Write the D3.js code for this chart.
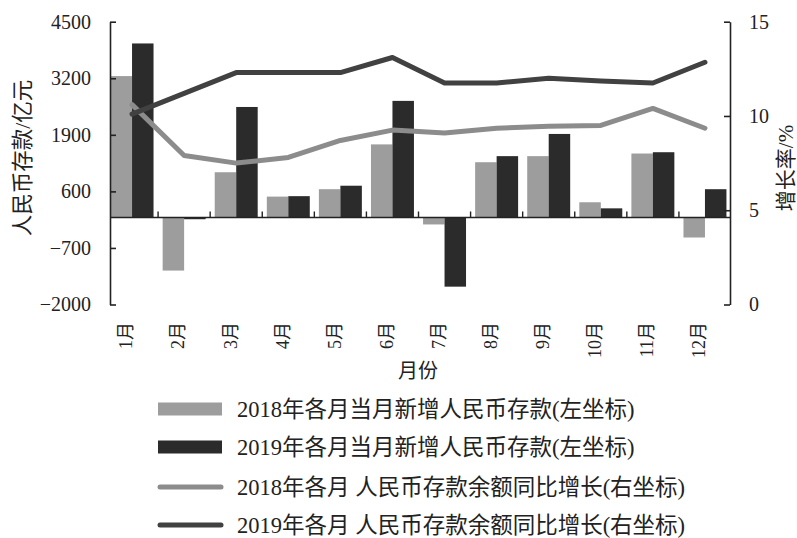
<!DOCTYPE html>
<html>
<head>
<meta charset="utf-8">
<script src="https://cdn.jsdelivr.net/npm/d3@7"></script>
<style>
  html, body { margin: 0; padding: 0; background: #fff; }
  svg { display: block; }
  text { font-family: "Liberation Serif", "Noto Sans CJK SC", serif; fill: #222; }
</style>
</head>
<body>
<svg id="chart" width="797" height="538"></svg>
<script>
// ---- data ----
const months = ["1月","2月","3月","4月","5月","6月","7月","8月","9月","10月","11月","12月"];
const deposit2018 = [3250, -1220, 1040, 480, 650, 1680, -160, 1270, 1410, 350, 1470, -460];
const deposit2019 = [4000, -40, 2540, 490, 730, 2680, -1590, 1410, 1920, 210, 1500, 650];
const growth2018 = [10.6, 7.9, 7.5, 7.8, 8.7, 9.25, 9.1, 9.35, 9.45, 9.5, 10.4, 9.35];
const growth2019 = [10.1, 11.2, 12.3, 12.3, 12.3, 13.1, 11.75, 11.75, 12.0, 11.85, 11.75, 12.85];
const leftTicks = [-2000, -700, 600, 1900, 3200, 4500];
const rightTicks = [0, 5, 10, 15];
const legendLabels = [
  "2018年各月当月新增人民币存款(左坐标)",
  "2019年各月当月新增人民币存款(左坐标)",
  "2018年各月 人民币存款余额同比增长(右坐标)",
  "2019年各月 人民币存款余额同比增长(右坐标)"
];

// ---- layout ----
const svg = d3.select("#chart");
const plotLeft = 110, plotRight = 730, plotTop = 21.7, plotBottom = 304.5;
const colGray = "#9d9d9d", colDark = "#2b2b2b", colLineLight = "#8c8c8c", colLineDark = "#414141";

const x = d3.scaleBand().domain(months).range([106, 731]).paddingInner(0.175).paddingOuter(0.0875);
const xInner = d3.scaleBand().domain(["2018", "2019"]).range([0, x.bandwidth()]);
const yL = d3.scaleLinear().domain([-2000, 4500]).range([plotBottom, plotTop]);
const yR = d3.scaleLinear().domain([0, 15]).range([plotBottom, plotTop]);
const cx = m => x(m) + x.bandwidth() / 2;

// ---- bars ----
const barData = [];
months.forEach((m, i) => {
  barData.push({m, s: "2018", v: deposit2018[i]});
  barData.push({m, s: "2019", v: deposit2019[i]});
});
svg.append("g").selectAll("rect").data(barData).join("rect")
  .attr("x", d => x(d.m) + xInner(d.s))
  .attr("width", xInner.bandwidth())
  .attr("y", d => Math.min(yL(d.v), yL(0)))
  .attr("height", d => Math.abs(yL(d.v) - yL(0)))
  .attr("fill", d => d.s === "2018" ? colGray : colDark);

// ---- axes ----
const axisColor = "#222";
// left axis
const gL = svg.append("g").attr("transform", `translate(${plotLeft},0)`)
  .call(d3.axisLeft(yL).tickValues(leftTicks).tickFormat(d3.format("d"))
    .tickSizeInner(-6).tickSizeOuter(0).tickPadding(19));
gL.select(".domain").attr("stroke", axisColor).attr("stroke-width", 1.6);
gL.selectAll(".tick line").attr("stroke", axisColor).attr("stroke-width", 1.6);
gL.selectAll(".tick text").attr("font-size", 20).attr("fill", "#222")
  .style("font-family", "'Liberation Serif', serif");

// right axis
const gR = svg.append("g").attr("transform", `translate(${plotRight},0)`)
  .call(d3.axisRight(yR).tickValues(rightTicks).tickFormat(d3.format("d"))
    .tickSizeInner(-6).tickSizeOuter(0).tickPadding(19));
gR.select(".domain").attr("stroke", axisColor).attr("stroke-width", 1.6);
gR.selectAll(".tick line").attr("stroke", axisColor).attr("stroke-width", 1.6);
gR.selectAll(".tick text").attr("font-size", 20).attr("fill", "#222")
  .style("font-family", "'Liberation Serif', serif");

// baseline (zero) with category separators
svg.append("line")
  .attr("x1", plotLeft).attr("x2", plotRight)
  .attr("y1", yL(0)).attr("y2", yL(0))
  .attr("stroke", axisColor).attr("stroke-width", 1.6);
const step = x.step();
svg.append("g").selectAll("line").data(months.slice(1)).join("line")
  .attr("x1", m => x(m) - step * x.paddingInner() / 2)
  .attr("x2", m => x(m) - step * x.paddingInner() / 2)
  .attr("y1", yL(0)).attr("y2", yL(0) - 6)
  .attr("stroke", axisColor).attr("stroke-width", 1.4);

// month labels (rotated)
svg.append("g").selectAll("text").data(months).join("text")
  .attr("transform", m => `translate(${cx(m) - 6},322) rotate(-90)`)
  .attr("text-anchor", "end")
  .attr("dy", "0.35em")
  .attr("font-size", 18)
  .text(m => m);

// axis titles
svg.append("text")
  .attr("transform", "translate(22,158) rotate(-90)")
  .attr("text-anchor", "middle").attr("dy", "0.35em")
  .attr("font-size", 21.5)
  .text("人民币存款/亿元");
svg.append("text")
  .attr("transform", "translate(786,168) rotate(-90)")
  .attr("text-anchor", "middle").attr("dy", "0.35em")
  .attr("font-size", 21)
  .text("增长率/%");
svg.append("text")
  .attr("x", 418).attr("y", 371)
  .attr("text-anchor", "middle").attr("dy", "0.35em")
  .attr("font-size", 20)
  .text("月份");

// ---- lines ----
const line = d3.line().x((d, i) => cx(months[i])).y(d => yR(d));
svg.append("path").datum(growth2018)
  .attr("d", line).attr("fill", "none")
  .attr("stroke", colLineLight).attr("stroke-width", 5)
  .attr("stroke-linejoin", "round").attr("stroke-linecap", "round");
svg.append("path").datum(growth2019)
  .attr("d", line).attr("fill", "none")
  .attr("stroke", colLineDark).attr("stroke-width", 5)
  .attr("stroke-linejoin", "round").attr("stroke-linecap", "round");

// ---- legend ----
const legendY = [409, 447, 487, 525];
const lg = svg.append("g");
legendLabels.forEach((lab, i) => {
  const y = legendY[i];
  if (i < 2) {
    lg.append("rect").attr("x", 158).attr("y", y - 6.5).attr("width", 64).attr("height", 13)
      .attr("fill", i === 0 ? colGray : colDark);
  } else {
    lg.append("line").attr("x1", 160).attr("x2", 221).attr("y1", y).attr("y2", y)
      .attr("stroke", i === 2 ? colLineLight : colLineDark).attr("stroke-width", 5)
      .attr("stroke-linecap", "round");
  }
  lg.append("text").attr("x", 237).attr("y", y).attr("dy", "0.35em")
    .attr("font-size", 22.5).text(lab);
});
</script>
</body>
</html>
